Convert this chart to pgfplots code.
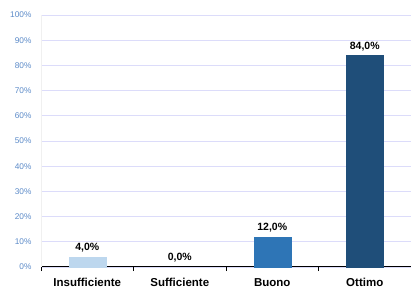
\documentclass[border=0pt]{standalone}
\usepackage{fontspec}
\setmainfont{Liberation Sans}
\usepackage{pgfplots}
\pgfplotsset{compat=1.18}
\definecolor{c1}{HTML}{BDD7EE}
\definecolor{c2}{HTML}{2E75B6}
\definecolor{c3}{HTML}{1F4E79}
\definecolor{gridc}{HTML}{DCDCFA}
\definecolor{tickc}{HTML}{5B8AC8}
\begin{document}
\begin{tikzpicture}
\begin{axis}[
  scale only axis,
  width=370pt, height=252pt,
  xmin=-0.5, xmax=3.5, ymin=0, ymax=100,
  axis x line=bottom, axis y line=left,
  x axis line style={black, line width=1pt, -},
  y axis line style={draw=black!6, -},
  xtick={-0.5,0.5,1.5,2.5,3.5},
  xticklabels={},
  x tick style={black, line width=0.8pt},
  xtick align=outside,
  major tick length=4pt,
  extra x ticks={0,1,2,3},
  extra x tick labels={Insufficiente,Sufficiente,Buono,Ottimo},
  extra x tick style={major tick length=0pt, grid=none,
    xticklabel style={font=\fontsize{11.5}{13}\selectfont\bfseries, yshift=-8pt}},
  ytick={0,10,...,100},
  yticklabel={\pgfmathprintnumber{\tick}\%},
  yticklabel style={font=\fontsize{8.3}{10}\selectfont, text=tickc, xshift=-4pt},
  major y tick style={draw=none},
  ymajorgrids,
  y grid style={gridc, line width=0.8pt},
  /pgf/number format/assume math mode=true,
  ybar, bar width=37pt,
  nodes near coords={\pgfmathprintnumber[fixed, fixed zerofill, precision=1, use comma]{\pgfplotspointmeta}\%},
  every node near coord/.append style={font=\fontsize{10.5}{12}\selectfont\bfseries, text=black, yshift=1pt},
  clip=false,
]
\addplot[fill=c1, draw=c1, bar shift=0pt] coordinates {(0,4)};
\addplot[draw=none, fill=none, bar shift=0pt] coordinates {(1,0)};
\addplot[fill=c2, draw=c2, bar shift=0pt] coordinates {(2,12)};
\addplot[fill=c3, draw=c3, bar shift=0pt] coordinates {(3,84)};
\coordinate (sw) at (rel axis cs:0,0);
\coordinate (ne) at (rel axis cs:1,1);
\end{axis}
\pgfresetboundingbox
\path ([shift={(-41pt,-24pt)}]sw) rectangle ([shift={(0pt,15pt)}]ne);
\end{tikzpicture}
\end{document}
